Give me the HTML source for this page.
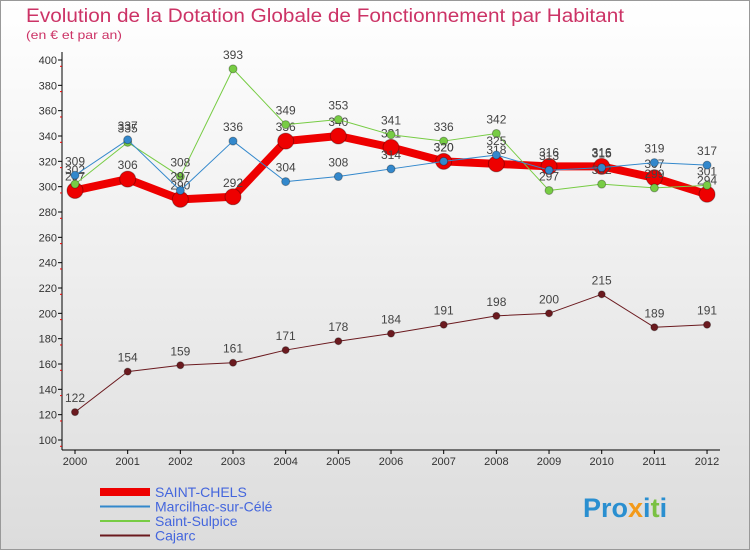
<!DOCTYPE html>
<html><head><meta charset="utf-8"><style>
body{margin:0;width:750px;height:550px;overflow:hidden;font-family:"Liberation Sans",sans-serif}
</style></head><body>
<svg id="c" width="750" height="550">
<defs><linearGradient id="bg" x1="0" y1="0" x2="0" y2="1"><stop offset="0" stop-color="#ffffff"/><stop offset="1" stop-color="#dcdcdc"/></linearGradient></defs>
<rect x="0.5" y="0.5" width="749" height="549" fill="url(#bg)" stroke="#999"/>
<text x="26" y="22" font-size="19" fill="#cc3366" textLength="598" lengthAdjust="spacingAndGlyphs">Evolution de la Dotation Globale de Fonctionnement par Habitant</text>
<text x="26" y="39" font-size="12" fill="#cc3366" textLength="96" lengthAdjust="spacingAndGlyphs">(en € et par an)</text>
<g id="g"></g>
<text x="583" y="517" font-size="27" font-weight="bold" fill="#2a8fd0">Pro<tspan fill="#f39a1a">x</tspan>i<tspan fill="#7ac143">t</tspan>i</text>
</svg>
<script>
const years=[2000,2001,2002,2003,2004,2005,2006,2007,2008,2009,2010,2011,2012];
const chels=[297,306,290,292,336,340,331,320,318,316,316,307,294];
const marc=[309,337,297,336,304,308,314,320,325,313,315,319,317];
const sulp=[302,335,308,393,349,353,341,336,342,297,302,299,301];
const cajarc=[122,154,159,161,171,178,184,191,198,200,215,189,191];
const yTicks=[100,120,140,160,180,200,220,240,260,280,300,320,340,360,380,400];
const NS="http://www.w3.org/2000/svg";
const g=document.getElementById('g');
const X=i=>75+i*52.67;
const Y=v=>440-(v-100)*380/300;
function el(t,a){const e=document.createElementNS(NS,t);for(const k in a)e.setAttribute(k,a[k]);g.appendChild(e);return e;}
let ax=el('line',{x1:62,y1:52,x2:62,y2:450,stroke:'#000'});


let xa=el('line',{x1:62,y1:450,x2:720,y2:450,stroke:'#000'});


yTicks.forEach(v=>{
 let t=el('text',{x:57,y:Y(v)+4,'font-size':11,'text-anchor':'end',fill:'#333'});t.textContent=v;
 
 
 el('line',{x1:58,y1:Y(v),x2:62,y2:Y(v),stroke:'#000'});
 el('line',{x1:60,y1:Y(v)+6.3,x2:62,y2:Y(v)+6.3,stroke:'#e00'});
});
years.forEach((y,i)=>{
 let t=el('text',{x:X(i),y:465,'font-size':11,'text-anchor':'middle',fill:'#333'});t.textContent=y;
 
 
 el('line',{x1:X(i),y1:450,x2:X(i),y2:454,stroke:'#000'});
});
function series(d,color,w,r,name){
 let p=el('polyline',{points:d.map((v,i)=>X(i)+','+Y(v)).join(' '),fill:'none',stroke:color,'stroke-width':w,'stroke-linejoin':'round'});
 
 
 d.forEach((v,i)=>{
  let c=el('circle',{cx:X(i),cy:Y(v),r:r,fill:color,stroke:'rgba(0,0,0,0.3)'});
  
  
  let t=el('text',{x:X(i),y:Y(v)-10,'font-size':12,'text-anchor':'middle',fill:'#444'});t.textContent=v;
  
  
 });
}
series(cajarc,'#6b1a1f',1,3.5,'cajarc');
series(chels,'#ee0000',8,8,'saint-chels');
series(sulp,'#77cc44',1,4,'saint-sulpice');
series(marc,'#3388cc',1,4,'marcilhac');
const leg=[['SAINT-CHELS','#ee0000',8],['Marcilhac-sur-Célé','#3388cc',2],['Saint-Sulpice','#77cc44',2],['Cajarc','#6b1a1f',2]];
leg.forEach((l,i)=>{
 const y=492+i*14.5;
 let ln=el('line',{x1:100,y1:y,x2:150,y2:y,stroke:l[1],'stroke-width':l[2]});
 
 
 let t=el('text',{x:155,y:y+5,'font-size':14,fill:'#4466dd'});t.textContent=l[0];
 
 
});
</script>
</body></html>
